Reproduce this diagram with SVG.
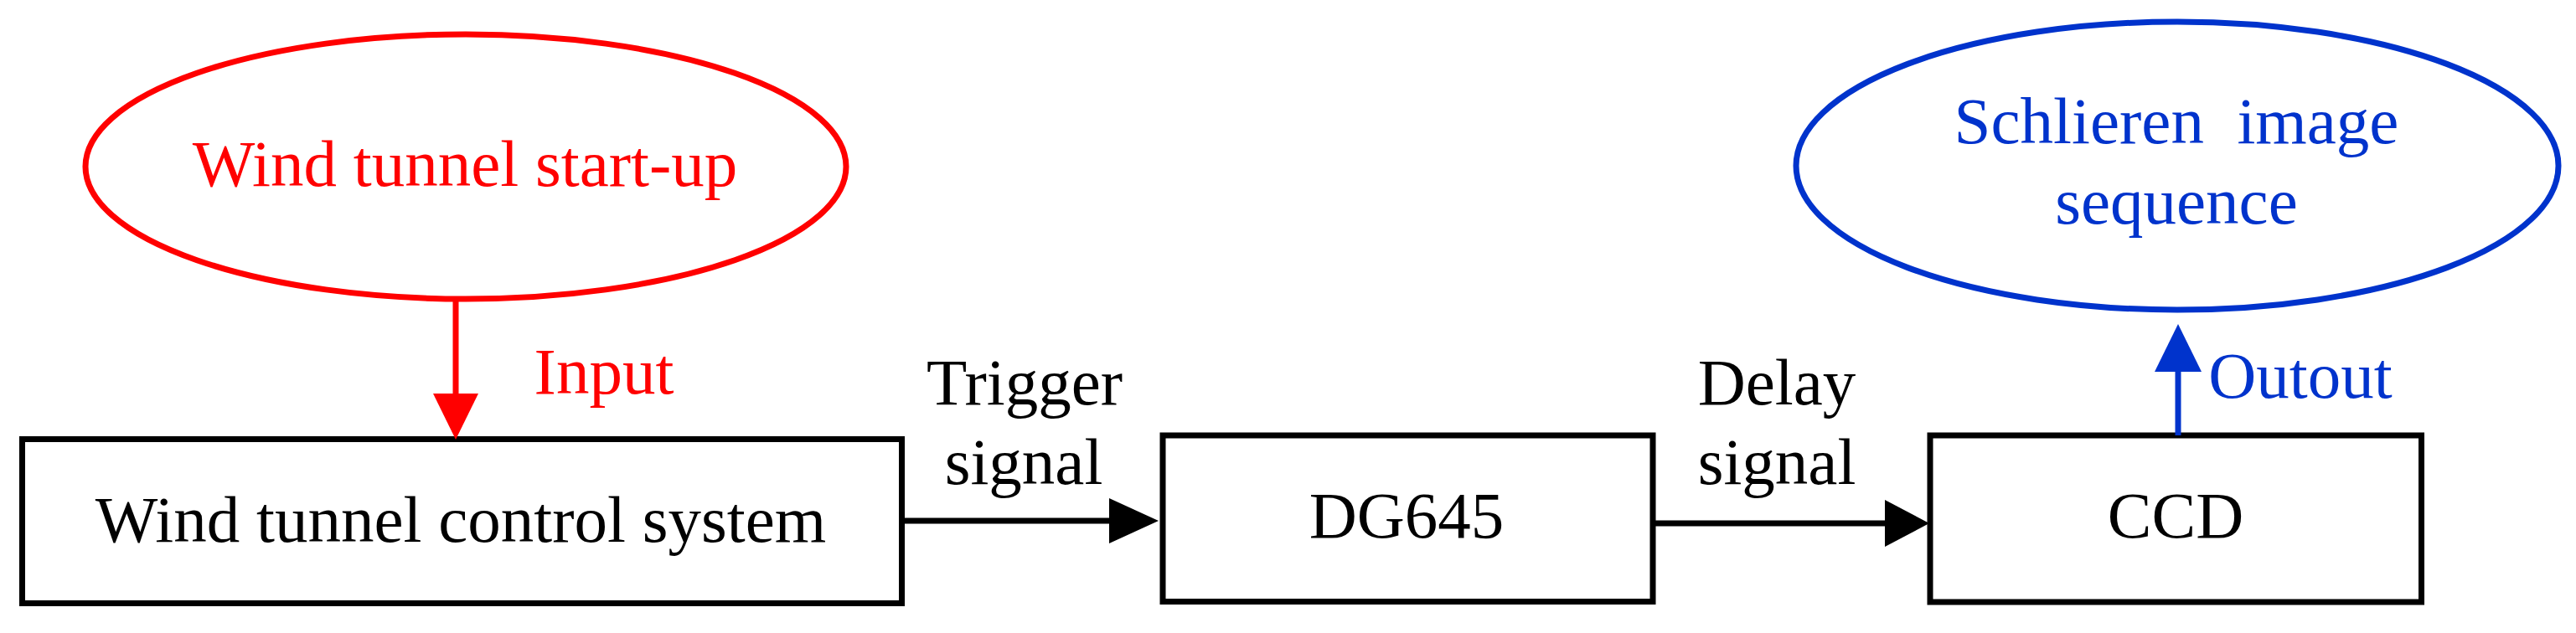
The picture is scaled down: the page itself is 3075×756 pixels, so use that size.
<svg xmlns="http://www.w3.org/2000/svg" width="3075" height="756" viewBox="0 0 3075 756">
<style>
  text { font-family: "Liberation Serif", "Times New Roman", serif; font-size: 79px; text-anchor: middle; }
  .box { fill: #FFFFFF; stroke: #000000; stroke-width: 7; }
  .k { fill: #000000; }
  .r { fill: #FF0000; }
  .b { fill: #0033CC; }
  .line { fill: none; stroke-width: 7; }
</style>
<rect width="3075" height="756" fill="#FFFFFF"/>
<g id="node-startup">
  <ellipse cx="556" cy="199" rx="454" ry="158" fill="none" stroke="#FF0000" stroke-width="7"/>
  <text x="555" y="222" class="r">Wind tunnel start-up</text>
</g>
<g id="node-control">
  <rect class="box" x="26.5" y="524.5" width="1050" height="196"/>
  <text x="550" y="647" class="k">Wind tunnel control system</text>
</g>
<g id="node-dg645">
  <rect class="box" x="1388" y="520" width="585" height="198.5"/>
  <text x="1679" y="642" class="k">DG645</text>
</g>
<g id="node-ccd">
  <rect class="box" x="2304" y="520" width="586.5" height="199"/>
  <text x="2597" y="642" class="k">CCD</text>
</g>
<g id="node-schlieren">
  <ellipse cx="2599" cy="198" rx="455" ry="172" fill="none" stroke="#0033CC" stroke-width="7"/>
  <text x="2598" y="171" class="b" xml:space="preserve">Schlieren  image</text>
  <text x="2598" y="267" class="b">sequence</text>
</g>
<g id="connectors">
  <line class="line" x1="544" y1="360" x2="544" y2="472" stroke="#FF0000"/>
  <polygon points="517,470 571,470 544,525" fill="#FF0000"/>
  <text x="721" y="470" class="r">Input</text>

  <line class="line" x1="1077" y1="622" x2="1326" y2="622" stroke="#000000"/>
  <polygon points="1324,595 1324,649 1383,622" fill="#000000"/>
  <text x="1223" y="483" class="k">Trigger</text>
  <text x="1222" y="578" class="k">signal</text>

  <line class="line" x1="1973" y1="625" x2="2252" y2="625" stroke="#000000"/>
  <polygon points="2250,597 2250,653 2303,625" fill="#000000"/>
  <text x="2121" y="483" class="k">Delay</text>
  <text x="2121" y="578" class="k">signal</text>

  <line class="line" x1="2600" y1="520" x2="2600" y2="441" stroke="#0033CC"/>
  <polygon points="2572,444 2628,444 2600,387" fill="#0033CC"/>
  <text x="2746" y="475" class="b">Outout</text>
</g>
</svg>
